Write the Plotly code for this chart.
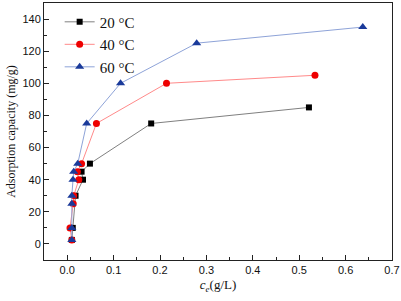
import plotly.graph_objects as go

x20 = [0.010, 0.012, 0.018, 0.034, 0.031, 0.049, 0.181, 0.521]
y20 = [2.5, 10, 30, 40, 45, 50, 75, 85]
x40 = [0.010, 0.006, 0.013, 0.014, 0.025, 0.022, 0.031, 0.063, 0.214, 0.534]
y40 = [2.5, 10, 25, 30, 40, 45, 50, 75, 100, 105]
x60 = [0.010, 0.010, 0.010, 0.010, 0.0125, 0.014, 0.0227, 0.042, 0.115, 0.279, 0.637]
y60 = [2.5, 10, 25, 30, 40, 45, 50, 75, 100, 125, 135]
names = ["20 °C", "40 °C", "60 °C"]

fig = go.Figure()
fig.add_trace(go.Scatter(x=x20, y=y20, name=names[0], mode="lines+markers",
                         line=dict(color="#808080", width=1),
                         marker=dict(symbol="square", size=6, color="#000000")))
fig.add_trace(go.Scatter(x=x40, y=y40, name=names[1], mode="lines+markers",
                         line=dict(color="#ff8a8a", width=1),
                         marker=dict(symbol="circle", size=7, color="#ee0000")))
fig.add_trace(go.Scatter(x=x60, y=y60, name=names[2], mode="lines+markers",
                         line=dict(color="#8ea3d8", width=1),
                         marker=dict(symbol="triangle-up", size=8, color="#1a3a9a")))

axis_common = dict(showline=True, linecolor="#222", linewidth=1, mirror=True,
                   ticks="inside", ticklen=5, tickcolor="#222", showgrid=False,
                   zeroline=False, automargin=False,
                   tickfont=dict(family="Liberation Sans, Arial", size=11, color="#111"))

fig.update_layout(
    width=401, height=301,
    margin=dict(l=44, r=9, t=3, b=41),
    plot_bgcolor="white", paper_bgcolor="white",
    xaxis=dict(range=[-0.05, 0.7], dtick=0.1, tickformat=".1f",
               minor=dict(dtick=0.05, ticks="inside", ticklen=3, tickcolor="#222"),
               title=dict(text="<i>c</i><sub><i>e</i></sub>(g/L)", standoff=4,
                          font=dict(family="Liberation Serif, Times New Roman", size=13, color="#111")),
               **axis_common),
    yaxis=dict(range=[-10, 150], dtick=20,
               minor=dict(dtick=10, ticks="inside", ticklen=3, tickcolor="#222"),
               title=dict(text="Adsorption capacity (mg/g)", standoff=4,
                          font=dict(family="Liberation Serif, Times New Roman", size=12, color="#111")),
               **axis_common),
    legend=dict(x=0.045, y=0.99, xanchor="left", yanchor="top",
                bgcolor="rgba(0,0,0,0)", tracegroupgap=0, itemwidth=30,
                font=dict(family="Liberation Serif, Times New Roman", size=15, color="#111")),
)

fig.write_html("out.html", config={"displayModeBar": False},
               post_script="document.body.style.margin='0';")
